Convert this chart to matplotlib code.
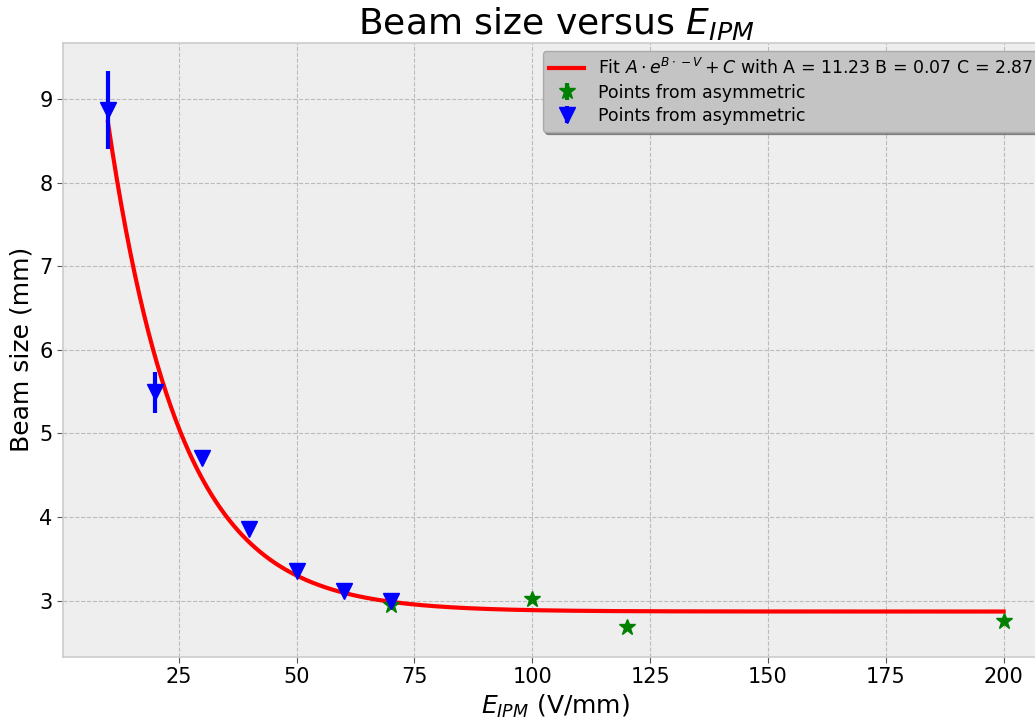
import numpy as np
import matplotlib
matplotlib.use("Agg")
import matplotlib.pyplot as plt

# Measured beam sizes (mm) against IPM field (V/mm)
field_blue = [10, 20, 30, 40, 50, 60, 70]
size_blue = [8.87, 5.49, 4.71, 3.86, 3.35, 3.12, 2.99]
err_blue = [0.47, 0.25, 0.04, 0.04, 0.04, 0.04, 0.04]

field_green = [70, 100, 120, 200]
size_green = [2.95, 3.02, 2.68, 2.76]
err_green = [0.02, 0.02, 0.02, 0.02]

# Exponential fit parameters: A * exp(-B * V) + C
fit_A = 11.23
fit_B = 0.0652
fit_C = 2.87

plt.rcParams['font.family'] = ['DejaVu Sans']

fig = plt.figure(figsize=(10.35, 7.22), dpi=100)
ax = fig.add_axes([0.061, 0.09, 0.952, 0.851])
ax.set_facecolor('#eeeeee')
for s in ax.spines.values():
    s.set_color('#cccccc')
    s.set_linewidth(1.2)

ax.grid(True, linestyle='--', color='#bbbbbb', linewidth=0.8)
ax.set_axisbelow(True)

v = np.linspace(min(field_blue), max(field_green), 400)
ax.plot(v, fit_A * np.exp(-fit_B * v) + fit_C, color='red', lw=3,
        label=r'Fit $A \cdot e^{B \cdot -V} + C$ with A = %.2f B = %.2f C = %.2f'
        % (fit_A, fit_B, fit_C), zorder=2)

ax.errorbar(field_green, size_green, yerr=err_green, fmt='*', color='green',
            markersize=12, elinewidth=3, capsize=0, zorder=3,
            label='Points from asymmetric')
ax.errorbar(field_blue, size_blue, yerr=err_blue, fmt='v', color='blue',
            markersize=12, elinewidth=3, capsize=0, zorder=4,
            label='Points from asymmetric')

ax.set_xticks([25, 50, 75, 100, 125, 150, 175, 200])
ax.set_yticks([3, 4, 5, 6, 7, 8, 9])
ax.tick_params(labelsize=15, color='#555555', length=4)

ax.set_xlabel(r'$E_{IPM}$ (V/mm)', fontsize=18)
ax.set_ylabel('Beam size (mm)', fontsize=18)
ax.set_title(r'Beam size versus $E_{IPM}$', fontsize=26)

leg = ax.legend(loc='upper right', fontsize=12.5, shadow=True, fancybox=True,
                facecolor='#c4c4c4', edgecolor='#aaaaaa', framealpha=1,
                labelspacing=0.3)

fig.savefig('out.png', dpi=100)
